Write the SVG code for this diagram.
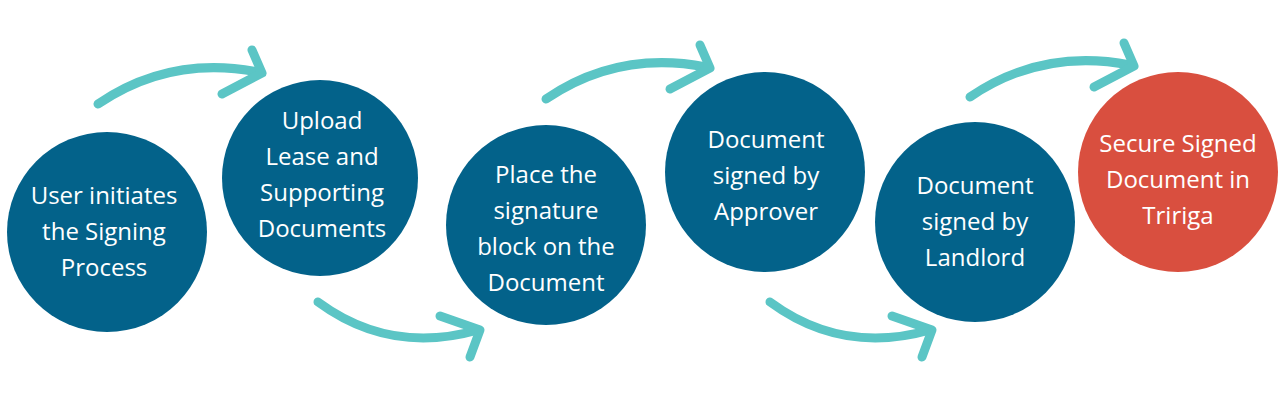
<svg xmlns="http://www.w3.org/2000/svg" width="1280" height="400" viewBox="0 0 1280 400">
<style>
.n{fill:#03628a}.r{fill:#d94f3f}
.t{font-family:"Open Sans","Liberation Sans",sans-serif;font-size:24px;fill:#fff;text-anchor:middle}
.a{fill:none;stroke:#5bc5c5;stroke-width:9;stroke-linecap:round;stroke-linejoin:round}
</style>
<rect width="1280" height="400" fill="#fff"/>
<g id="connectors">
<path class="a" d="M98,104 Q170,55 258,72"/><path class="a" d="M252,50 L262,73 L222,94"/>
<path class="a" d="M318,302 Q390,355 478,330"/><path class="a" d="M440,316 L480,330 L470,357"/>
<path class="a" d="M546,99 Q618,50 706,67"/><path class="a" d="M700,45 L710,68 L670,89"/>
<path class="a" d="M770,302 Q842,355 930,330"/><path class="a" d="M892,316 L932,330 L922,357"/>
<path class="a" d="M970,97 Q1042,48 1130,65"/><path class="a" d="M1124,43 L1134,66 L1094,87"/>
</g>
<g id="n1"><circle class="n" cx="107" cy="232" r="100"/><text class="t"><tspan x="104" y="204">User initiates</tspan><tspan x="104" y="240">the Signing</tspan><tspan x="104" y="276">Process</tspan></text></g>
<g id="n2"><circle class="n" cx="320" cy="178" r="98"/><text class="t"><tspan x="322" y="129">Upload</tspan><tspan x="322" y="165">Lease and</tspan><tspan x="322" y="201">Supporting</tspan><tspan x="322" y="237">Documents</tspan></text></g>
<g id="n3"><circle class="n" cx="546" cy="225" r="100"/><text class="t"><tspan x="546" y="183">Place the</tspan><tspan x="546" y="219">signature</tspan><tspan x="546" y="255">block on the</tspan><tspan x="546" y="291">Document</tspan></text></g>
<g id="n4"><circle class="n" cx="765" cy="172" r="100"/><text class="t"><tspan x="766" y="148">Document</tspan><tspan x="766" y="184">signed by</tspan><tspan x="766" y="220">Approver</tspan></text></g>
<g id="n5"><circle class="n" cx="975" cy="222" r="100"/><text class="t"><tspan x="975" y="194">Document</tspan><tspan x="975" y="230">signed by</tspan><tspan x="975" y="266">Landlord</tspan></text></g>
<g id="n6"><circle class="r" cx="1178" cy="172" r="100"/><text class="t"><tspan x="1178" y="152">Secure Signed</tspan><tspan x="1178" y="188">Document in</tspan><tspan x="1178" y="224">Tririga</tspan></text></g>
</svg>
